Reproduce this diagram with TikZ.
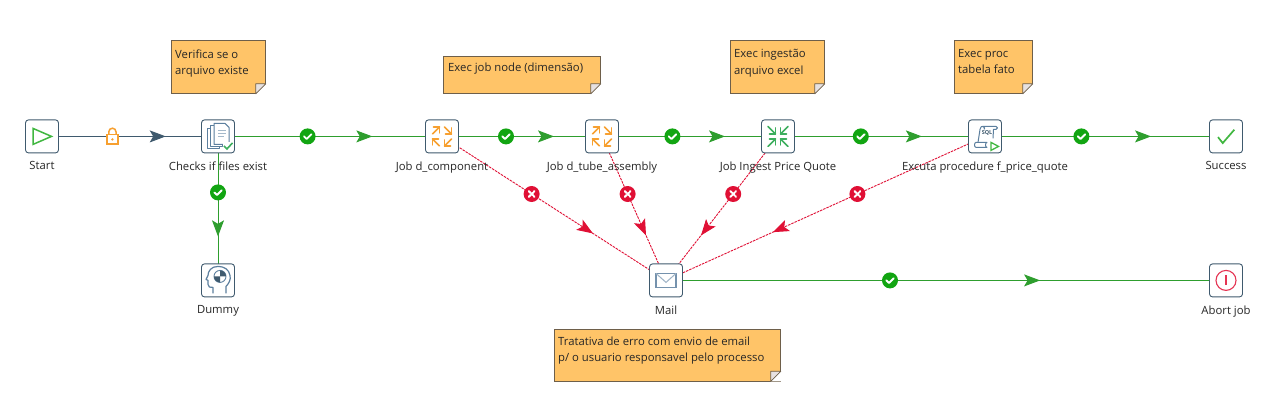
\documentclass[tikz,border=0pt]{standalone}
\usepackage{fontspec}
\setmainfont{Open Sans}
\usetikzlibrary{arrows.meta,backgrounds,decorations.markings,calc}
\definecolor{slate}{HTML}{3F5A6E}
\definecolor{okgreen}{HTML}{12A512}
\definecolor{linegreen}{HTML}{2E9E2E}
\definecolor{errred}{HTML}{E01035}
\definecolor{notefill}{HTML}{FFC468}
\definecolor{noteedge}{HTML}{6E5F4A}
\definecolor{iconorange}{HTML}{F7A030}
\definecolor{icongreen}{HTML}{3DAE5E}
\definecolor{docblue}{HTML}{5C7F9E}
\definecolor{foldgrey}{HTML}{E6E1E1}
\tikzset{
  every node/.style={font=\fontsize{11.3}{15}\selectfont,text=black!85},
  entry/.style={draw=slate,line width=0.9pt,rounded corners=3pt,fill=white,minimum size=33pt,inner sep=0pt},
  steptext/.style={inner sep=0pt,anchor=north,yshift=-25pt},
  note/.style={draw=noteedge,line width=0.8pt,fill=notefill,anchor=north west,inner sep=0pt,minimum height=53pt},
  notetext/.style={anchor=north west,inner sep=0pt,align=left,font=\fontsize{11.3}{16.2}\selectfont},
  okline/.style={draw=linegreen,line width=1pt},
  errline/.style={draw=errred,line width=0.9pt,dash pattern=on 2.5pt off 1pt},
  lockline/.style={draw=slate,line width=1pt},
  okhop/.style={circle,fill=okgreen,inner sep=0pt,minimum size=16pt,pos=0.4,path picture={
    \draw[white,line width=1.9pt,line cap=round,line join=round] ($(path picture bounding box.center)+(-3.6pt,0pt)$)--++(2.6pt,-2.6pt)--++(4.8pt,4.8pt);}},
  badhop/.style={circle,fill=errred,inner sep=0pt,minimum size=16pt,pos=0.4,path picture={
    \draw[white,line width=2pt,line cap=round] ($(path picture bounding box.center)+(-2.8pt,-2.8pt)$)--++(5.6pt,5.6pt);
    \draw[white,line width=2pt,line cap=round] ($(path picture bounding box.center)+(-2.8pt,2.8pt)$)--++(5.6pt,-5.6pt);}},
  lockhop/.style={inner sep=0pt,minimum width=12pt,minimum height=16pt,fill=white,pos=0.4},
  headat/.style={postaction={decorate,decoration={markings,mark=at position #1 with {\arrow{Stealth[length=16pt,width=12pt,inset=3.5pt]}}}}},
  arrowicon/.style={line width=1.6pt,line cap=round,line join=miter},
  doc/.style={draw=docblue,line width=1pt,fill=white,line join=round},
}
\newcommand{\foldcorner}[1]{%
  \fill[white] ($(#1.south east)+(-10,0)$)--(#1.south east)--($(#1.south east)+(0,-10)$)--cycle;
  \draw[noteedge,line width=0.8pt,fill=foldgrey,line join=round] ($(#1.south east)+(-10,0)$)--($(#1.south east)+(-10,-10)$)--($(#1.south east)+(0,-10)$)--cycle;}
\begin{document}
\begin{tikzpicture}[x=1pt,y=-1pt]
\useasboundingbox (0,0) rectangle (1276,402);

% steps
\node[entry] (start) at (42,136.4) {};
\node[entry] (checks) at (218,136.4) {};
\node[entry] (dcomp) at (442,136.4) {};
\node[entry] (dtube) at (602,136.4) {};
\node[entry] (ingest) at (778,136.4) {};
\node[entry] (proc) at (985,136.4) {};
\node[entry] (success) at (1226,136.4) {};
\node[entry] (dummy) at (218,280.4) {};
\node[entry] (mail) at (666,280.4) {};
\node[entry] (abort) at (1226,280.4) {};

% connectors
\begin{scope}[on background layer]
  \fill[white] (0,0) rectangle (1276,402);
  \draw[lockline,headat=0.703] (start.center) -- node[lockhop] (lock) {} (checks.center);
  \draw[okline,headat=0.689] (checks.center) -- node[okhop] (h1) {} (dcomp.center);
  \draw[okline,headat=0.70] (dcomp.center) -- node[okhop] (h2) {} (dtube.center);
  \draw[okline,headat=0.699] (dtube.center) -- node[okhop] (h3) {} (ingest.center);
  \draw[okline,headat=0.695] (ingest.center) -- node[okhop] (h4) {} (proc.center);
  \draw[okline,headat=0.689] (proc.center) -- node[okhop] (h5) {} (success.center);
  \draw[okline,headat=0.668] (mail.center) -- node[okhop] (h6) {} (abort.center);
  \draw[okline,headat=0.694] (checks.center) -- node[okhop,pos=0.389] (h7) {} (dummy.center);
  \draw[errline,headat=0.674] (dcomp.center) -- node[badhop] (e1) {} (mail.center);
  \draw[errline,headat=0.6875] (dtube.center) -- node[badhop] (e2) {} (mail.center);
  \draw[errline,headat=0.6875] (ingest.center) -- node[badhop] (e3) {} (mail.center);
  \draw[errline,headat=0.665] (proc.center) -- node[badhop] (e4) {} (mail.center);
\end{scope}

% padlock
\begin{scope}[shift={(lock.center)}]
  \draw[iconorange,line width=1.5pt] (-3.6,-2) -- (-3.6,-4.6) arc[start angle=180,end angle=0,radius=3.6,y radius=-3.6] -- (3.6,-2);
  \draw[iconorange,line width=1.5pt,fill=white] (-5.5,-2) rectangle (5.5,7.7);
  \fill[iconorange] (0,3) circle (1.3);
\end{scope}

% icons
\draw[okgreen!80!white,line width=1.5pt,line join=miter] ([shift={(-9,-8)}]start.center) -- ([shift={(9.5,0)}]start.center) -- ([shift={(-9,8)}]start.center) -- cycle;

\begin{scope}[shift={(checks.center)}]
  \draw[doc] (-11,-8) rectangle (1,12);
  \draw[doc] (-8,-10.5) rectangle (4,10);
  \draw[doc] (-4,-13) -- (7,-13) -- (11,-9) -- (11,8) -- (-4,8) -- cycle;
  \draw[docblue!55,line width=0.9pt] (0,-6) -- (8,-6) (0,-3) -- (8,-3) (0,0) -- (6,0);
  \fill[white] (4.5,5.5) rectangle (15,14);
  \draw[icongreen,line width=1.6pt] (6,9.5) -- (9,12.5) -- (14.5,6.5);
\end{scope}

\begin{scope}[shift={(dummy.center)}]
  \draw[docblue,line width=1.2pt,line join=round] (8,13) -- (8,6) .. controls (11,3) and (13,-1) .. (12,-5) .. controls (11,-11) and (6,-14) .. (0,-14) .. controls (-7,-14) and (-10,-9) .. (-10,-5) -- (-12,-1) -- (-10,0) -- (-10,4) .. controls (-10,7) and (-8,7) .. (-5,7) -- (-5,13);
  \draw[docblue,line width=0.9pt] (2,-4) circle (6);
  \fill[slate] (2,-4) -- (2,-10) arc[start angle=90,end angle=0,radius=6,y radius=-6] -- cycle;
  \fill[slate] (2,-4) -- (2,2) arc[start angle=270,end angle=180,radius=6,y radius=-6] -- cycle;
\end{scope}

\begin{scope}[shift={(dcomp.center)}]
  \foreach \s in {0,90,180,270}{
    \begin{scope}[rotate=\s]
      \draw[iconorange,arrowicon] (-9.5,-2.5) -- (-2.5,-9.5);
      \draw[iconorange,arrowicon] (-8.5,-9.5) -- (-2.5,-9.5) -- (-2.5,-3.5);
    \end{scope}}
\end{scope}
\begin{scope}[shift={(dtube.center)}]
  \foreach \s in {0,90,180,270}{
    \begin{scope}[rotate=\s]
      \draw[iconorange,arrowicon] (-9.5,-2.5) -- (-2.5,-9.5);
      \draw[iconorange,arrowicon] (-8.5,-9.5) -- (-2.5,-9.5) -- (-2.5,-3.5);
    \end{scope}}
\end{scope}
\begin{scope}[shift={(ingest.center)}]
  \foreach \s in {0,90,180,270}{
    \begin{scope}[rotate=\s]
      \draw[icongreen,arrowicon] (-10,-10) -- (-2.5,-2.5);
      \draw[icongreen,arrowicon] (-8.5,-2.5) -- (-2.5,-2.5) -- (-2.5,-8.5);
    \end{scope}}
\end{scope}

\begin{scope}[shift={(proc.center)}]
  \draw[docblue,line width=1pt,line join=round] (-7,6) -- (-5,-7) .. controls (-5,-10) and (-3,-10) .. (-2,-10) -- (11,-10) .. controls (13,-10) and (13,-7) .. (11,-7) -- (8.5,-7) -- (8,2);
  \draw[docblue,line width=1pt,line join=round] (-2,-10) .. controls (0,-10) and (0,-7) .. (-1,-7);
  \draw[docblue,line width=1pt,line join=round] (-7,6) -- (-9,6) .. controls (-11,6) and (-11,11) .. (-9,11) -- (2,11) .. controls (0,11) and (0,6) .. (2,6) -- (-7,6);
  \node[inner sep=0pt,font=\fontsize{5.5}{6}\bfseries\selectfont,text=slate] (sqltxt) at (2,-3) {SQL};
  \draw[okgreen!80!white,line width=1.3pt,line join=miter] (6,6) -- (13.5,10) -- (6,14) -- cycle;
\end{scope}

\draw[okgreen!80!white,line width=1.7pt] ([shift={(-8,0.7)}]success.center) -- ([shift={(-3.3,6.7)}]success.center) -- ([shift={(8.3,-6.7)}]success.center);

\begin{scope}[shift={(mail.center)}]
  \draw[docblue!85!white,line width=1.6pt] (-10,-7) rectangle (10,7);
  \draw[docblue!60,line width=1pt] (-10,-7) -- (0,2) -- (10,-7);
\end{scope}

\begin{scope}[shift={(abort.center)}]
  \draw[errred!85!white,line width=1.1pt] (0,0) circle (10);
  \draw[errred!85!white,line width=1.1pt] (0,-5) -- (0,5);
\end{scope}

% labels
\node[steptext] (tstart) at (start.center) {Start};
\node[steptext] (tchecks) at (checks.center) {Checks if files exist};
\node[steptext] (tdcomp) at (dcomp.center) {Job d\_component};
\node[steptext] (tdtube) at (dtube.center) {Job d\_tube\_assembly};
\node[steptext] (tingest) at (ingest.center) {Job Ingest Price Quote};
\node[steptext] (tproc) at (proc.center) {Excuta procedure f\_price\_quote};
\node[steptext] (tsuccess) at (success.center) {Success};
\node[steptext] (tdummy) at (dummy.center) {Dummy};
\node[steptext] (tmail) at (mail.center) {Mail};
\node[steptext] (tabort) at (abort.center) {Abort job};

% notes
\node[note,minimum width=94pt] (n1) at (171,40) {};
\node[note,minimum width=157pt,minimum height=37pt] (n2) at (443,56) {};
\node[note,minimum width=94pt] (n3) at (730,40) {};
\node[note,minimum width=78pt] (n4) at (954,40) {};
\node[note,minimum width=226pt,minimum height=52pt] (n5) at (554,328.5) {};
\foldcorner{n1}\foldcorner{n2}\foldcorner{n3}\foldcorner{n4}\foldcorner{n5}
\node[notetext] (t1) at ($(n1.north west)+(4,9.5)$) {Verifica se o\\arquivo existe};
\node[notetext] (t2) at ($(n2.north west)+(5,6.5)$) {Exec job node (dimensão)};
\node[notetext] (t3) at ($(n3.north west)+(4,9.5)$) {Exec ingestão\\arquivo excel};
\node[notetext] (t4) at ($(n4.north west)+(4,9.5)$) {Exec proc\\tabela fato};
\node[notetext] (t5) at ($(n5.north west)+(4,8.5)$) {Tratativa de erro com envio de email\\p/ o usuario responsavel pelo processo};
\end{tikzpicture}
\end{document}
